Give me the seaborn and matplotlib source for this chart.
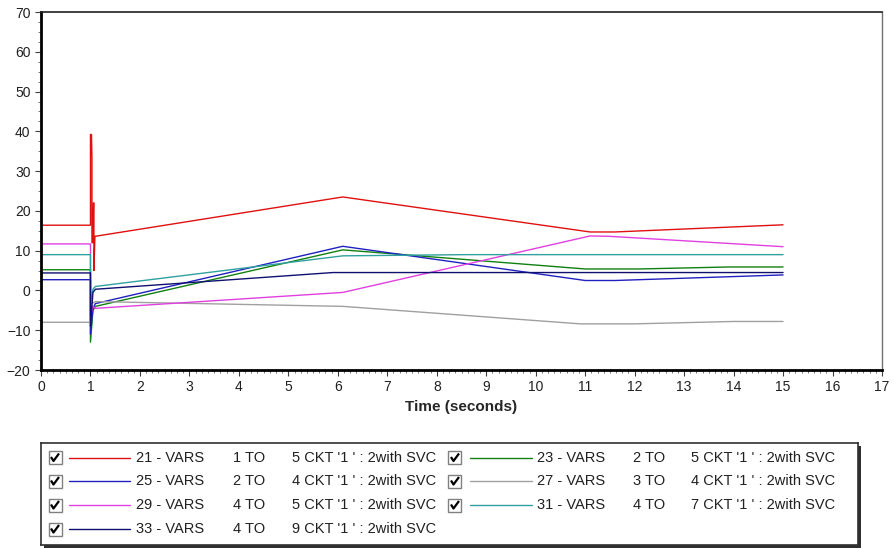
import numpy as np
import pandas as pd
import matplotlib
matplotlib.use("Agg")
import matplotlib.pyplot as plt
from matplotlib.patches import Rectangle
import seaborn as sns

# ---------------- data ----------------
series_names = ["21 - VARS", "23 - VARS", "25 - VARS", "27 - VARS",
                "29 - VARS", "31 - VARS", "33 - VARS"]
to_labels = ["1 TO", "2 TO", "2 TO", "3 TO", "4 TO", "4 TO", "4 TO"]
ckt_labels = ["5 CKT '1 ' : 2with SVC", "5 CKT '1 ' : 2with SVC",
              "4 CKT '1 ' : 2with SVC", "4 CKT '1 ' : 2with SVC",
              "5 CKT '1 ' : 2with SVC", "7 CKT '1 ' : 2with SVC",
              "9 CKT '1 ' : 2with SVC"]
colors = ["#e01010", "#108010", "#2020c0", "#a0a0a0",
          "#e040e0", "#30a0a0", "#101070"]

t_21 = [0, 1.0, 1.0, 1.02, 1.03, 1.03, 1.05, 1.06, 1.07, 1.07, 1.09, 6.1, 11.1, 11.6, 15.0]
v_21 = [16.4, 16.4, 39.2, 39.2, 33.3, 12.0, 12.0, 22.0, 22.0, 5.0, 13.6, 23.5, 14.7, 14.7, 16.5]
t_23 = [0, 1.0, 1.0, 1.05, 1.1, 6.1, 11.0, 12.1, 13.9, 15.0]
v_23 = [5.2, 5.2, -13.0, -5.0, -4.0, 10.2, 5.4, 5.4, 5.9, 5.9]
t_25 = [0, 1.0, 1.0, 1.05, 1.1, 6.1, 11.0, 11.6, 15.0]
v_25 = [2.7, 2.7, -11.0, -4.5, -3.3, 11.1, 2.5, 2.5, 3.9]
t_27 = [0, 1.0, 1.0, 1.1, 6.1, 10.9, 12.0, 14.0, 15.0]
v_27 = [-8.0, -8.0, -3.5, -2.8, -4.0, -8.4, -8.4, -7.8, -7.8]
t_29 = [0, 1.0, 1.0, 1.05, 1.1, 6.1, 11.1, 11.5, 15.0]
v_29 = [11.7, 11.7, -6.5, -4.0, -4.5, -0.5, 13.7, 13.6, 11.0]
t_31 = [0, 1.0, 1.0, 1.05, 1.1, 6.1, 8.6, 15.0]
v_31 = [9.0, 9.0, -3.0, 0.3, 1.0, 8.7, 9.0, 9.0]
t_33 = [0, 1.0, 1.0, 1.05, 1.1, 5.9, 15.0]
v_33 = [4.4, 4.4, -9.0, -0.5, 0.3, 4.5, 4.5]

x_ticks = list(range(0, 18))
y_ticks = list(range(-20, 80, 10))

times = [t_21, t_23, t_25, t_27, t_29, t_31, t_33]
values = [v_21, v_23, v_25, v_27, v_29, v_31, v_33]

rows = []
for name, ts, vs in zip(series_names, times, values):
    for i, (t, v) in enumerate(zip(ts, vs)):
        rows.append({"series": name, "order": i, "t": t, "v": v})
df = pd.DataFrame(rows)

# ---------------- style ----------------
sns.set_style("ticks")
plt.rcParams["font.family"] = ["Liberation Sans", "DejaVu Sans"]

W, H = 893, 548
fig = plt.figure(figsize=(W / 100, H / 100), dpi=100)
L, R, T, B = 41, 882, 12, 370
ax = fig.add_axes([L / W, 1 - B / H, (R - L) / W, (B - T) / H])

sns.lineplot(data=df, x="t", y="v", hue="series", palette=dict(zip(series_names, colors)),
             estimator=None, sort=False, units="series", legend=False, lw=1.0, ax=ax)

ax.set_xlim(0, 17)
ax.set_ylim(-20, 70)
ax.set_xticks(x_ticks)
ax.set_yticks(y_ticks)
ax.set_xticks(np.arange(0, 17.01, 0.125), minor=True)
ax.set_yticks(np.arange(-20, 70.01, 2.5), minor=True)
ax.tick_params(axis="both", which="major", labelsize=10, length=4, width=0.8,
               color="#404040", labelcolor="#202020", direction="out")
ax.tick_params(axis="both", which="minor", length=2.5, width=0.6, color="#606060")
ax.set_xlabel("Time (seconds)", fontsize=11, fontweight="bold", labelpad=4)
ax.set_ylabel("")
for s in ["left", "bottom"]:
    ax.spines[s].set_linewidth(2.0)
    ax.spines[s].set_color("black")
ax.spines["top"].set_linewidth(1.2)
ax.spines["top"].set_color("#202020")
ax.spines["right"].set_linewidth(1.0)
ax.spines["right"].set_color("#707070")
ax.spines["top"].set_visible(True)
ax.spines["right"].set_visible(True)

# ---------------- legend box ----------------
LX0, LX1, LY0, LY1 = 41, 858, 443, 545
shadow = fig.add_axes([(LX0 + 3) / W, 1 - (LY1 + 3) / H, (LX1 - LX0) / W, (LY1 - LY0) / H])
shadow.set_facecolor("#303030")
shadow.set_xticks([])
shadow.set_yticks([])
for s in shadow.spines.values():
    s.set_visible(False)
shadow.set_zorder(1)

lax = fig.add_axes([LX0 / W, 1 - LY1 / H, (LX1 - LX0) / W, (LY1 - LY0) / H])
lax.set_zorder(2)
lax.set_xlim(LX0, LX1)
lax.set_ylim(LY1, LY0)
lax.set_xticks([])
lax.set_yticks([])
lax.set_facecolor("white")
for s in lax.spines.values():
    s.set_color("#303030")
    s.set_linewidth(1.2)

row_y = [457.5, 481, 505, 529]
col_x = [(55, 69, 130, 136, 233, 292), (455, 470, 532, 537, 633, 691)]
for k, (name, to_l, ckt, c) in enumerate(zip(series_names, to_labels, ckt_labels, colors)):
    r, cidx = divmod(k, 2)
    y = row_y[r]
    cb, l0, l1, tx1, tx2, tx3 = col_x[cidx]
    lax.add_patch(Rectangle((cb - 6.5, y - 6.5), 13, 13, facecolor="white",
                            edgecolor="#808080", lw=1.0))
    lax.plot([cb - 4, cb - 1.5, cb + 4], [y - 0.5, y + 3.5, y - 4], color="black", lw=1.6,
             solid_capstyle="butt")
    lax.plot([l0, l1], [y, y], color=c, lw=1.0)
    lax.text(tx1, y, name, va="center", ha="left", fontsize=10.5, color="#202020")
    lax.text(tx2, y, to_l, va="center", ha="left", fontsize=10.5, color="#202020")
    lax.text(tx3, y, ckt, va="center", ha="left", fontsize=10.5, color="#202020")

fig.savefig("out.png", dpi=100)
